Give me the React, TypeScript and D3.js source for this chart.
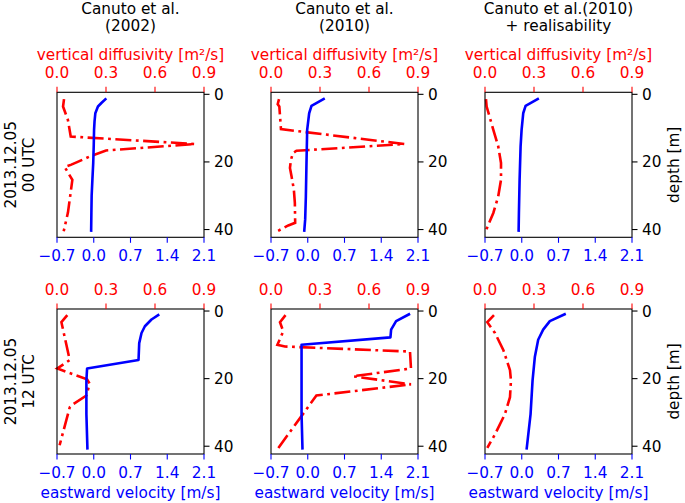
import React from "react";
import * as d3 from "d3";

// ---------- labels / ticks ----------
const columnTitles: string[][] = [
  ["Canuto et al.", "(2002)"],
  ["Canuto et al.", "(2010)"],
  ["Canuto et al.(2010)", "+ realisability"],
];
const rowLabels: string[][] = [
  ["2013.12.05", "00 UTC"],
  ["2013.12.05", "12 UTC"],
];
const velTicks = [-0.7, 0.0, 0.7, 1.4, 2.1];
const diffTicks = [0.0, 0.3, 0.6, 0.9];
const depthTicks = [0, 20, 40];

// ---------- 00 UTC, Canuto 2002 ----------
const velDepth00a = [1.2, 2.5, 3.6, 5.6, 8, 10.5, 15, 20.3, 25, 30, 35, 40.7];
const vel00a = [0.24, 0.15, 0.08, 0.03, 0.015, 0.006, 0.0, -0.01, -0.025, -0.04, -0.045, -0.05];
const difDepth00a = [1.4, 3.6, 7.6, 12.5, 14.7, 16.6, 18.4, 20.8, 21.5, 24.5, 25.3, 35, 40.5];
const dif00a = [0.043, 0.037, 0.067, 0.084, 0.845, 0.3, 0.2, 0.088, 0.047, 0.084, 0.094, 0.067, 0.041];

// ---------- 00 UTC, Canuto 2010 ----------
const velDepth00b = [1.2, 3.4, 5.6, 10.5, 20.3, 30.2, 37, 40.7];
const vel00b = [0.324, 0.071, 0.027, -0.011, -0.024, -0.036, -0.049, -0.068];
const difDepth00b = [1.4, 2.9, 3.6, 10.3, 14.7, 16.7, 17.4, 19.4, 21.8, 24.3, 28.2, 32.1, 38, 38.8, 40.5];
const dif00b = [0.049, 0.041, 0.051, 0.061, 0.817, 0.156, 0.134, 0.122, 0.116, 0.126, 0.14, 0.146, 0.148, 0.106, 0.039];

// ---------- 00 UTC, Canuto 2010 + realisability ----------
const velDepth00c = [1.2, 3.4, 5.6, 10.5, 15.4, 25.3, 35.1, 40.7];
const vel00c = [0.326, 0.073, 0.028, -0.003, -0.022, -0.041, -0.054, -0.06];
const difDepth00c = [1.4, 3.6, 10.5, 15.4, 20.3, 25.3, 30.2, 35.1, 40.5];
const dif00c = [0.006, 0.01, 0.051, 0.081, 0.098, 0.098, 0.081, 0.051, 0.004];

// ---------- 12 UTC, Canuto 2002 ----------
const velDepth12a = [1.0, 2.5, 4.5, 6.5, 9.5, 14.5, 17, 20.5, 30.5, 41];
const vel12a = [1.248, 1.1, 0.974, 0.91, 0.866, 0.853, -0.127, -0.14, -0.14, -0.12];
const difDepth12a = [1.2, 3.3, 14.5, 17, 20.2, 21.5, 25, 27.7, 28.5, 39.7];
const dif12a = [0.063, 0.027, 0.078, 0.002, 0.184, 0.2, 0.18, 0.094, 0.078, 0.016];

// ---------- 12 UTC, Canuto 2010 ----------
const velDepth12b = [0.8, 3, 5.5, 7.8, 10, 20.5, 30.5, 41];
const vel12b = [1.949, 1.683, 1.588, 1.575, -0.118, -0.118, -0.118, -0.1];
const difDepth12b = [1.2, 3.3, 6, 10, 10.5, 12, 17, 19.3, 21.7, 25, 40.5];
const dif12b = [0.089, 0.055, 0.075, 0.039, 0.085, 0.851, 0.857, 0.502, 0.857, 0.278, 0.045];

// ---------- 12 UTC, Canuto 2010 + realisability ----------
const velDepth12c = [0.8, 3, 5.5, 8.5, 13.5, 20.5, 30.5, 41];
const vel12c = [0.839, 0.535, 0.408, 0.313, 0.25, 0.206, 0.168, 0.092];
const difDepth12c = [1.2, 3.3, 6.5, 11.5, 17.5, 20.5, 25.5, 30.5, 36.5, 40.5];
const dif12c = [0.055, 0.014, 0.061, 0.112, 0.153, 0.159, 0.153, 0.122, 0.061, 0.014];

const panels = [
  [
    { vd: velDepth00a, v: vel00a, kd: difDepth00a, k: dif00a },
    { vd: velDepth00b, v: vel00b, kd: difDepth00b, k: dif00b },
    { vd: velDepth00c, v: vel00c, kd: difDepth00c, k: dif00c },
  ],
  [
    { vd: velDepth12a, v: vel12a, kd: difDepth12a, k: dif12a },
    { vd: velDepth12b, v: vel12b, kd: difDepth12b, k: dif12b },
    { vd: velDepth12c, v: vel12c, kd: difDepth12c, k: dif12c },
  ],
];

const FONT = "DejaVu Sans, Verdana, sans-serif";
const FS = 15.3;
const RED = "#ff0000";
const BLUE = "#0000ff";

const colX = [57, 271, 485];
const rowY = [92.3, 309];
const PW = 147;
const PH = 145;

const fmt = (v: number) => d3.format(".1f")(v).replace("-", "\u2212");

function Panel({ r, c }: { r: number; c: number }) {
  const x0 = colX[c];
  const y0 = rowY[r];
  const d = panels[r][c];
  const xVel = d3.scaleLinear().domain([-0.7, 2.1]).range([x0, x0 + PW]);
  const xDif = d3.scaleLinear().domain([0, 0.9]).range([x0, x0 + PW]);
  const yDep = d3.scaleLinear().domain([-0.6, 42.3]).range([y0, y0 + PH]);

  const velLine = d3
    .line<number>()
    .x((_, i) => xVel(d.v[i]))
    .y((dep) => yDep(dep));
  const difLine = d3
    .line<number>()
    .x((_, i) => xDif(d.k[i]))
    .y((dep) => yDep(dep));

  const TL = 5.5;
  return (
    <g>
      {/* data */}
      <path d={difLine(d.kd) || ""} fill="none" stroke={RED} strokeWidth={2.6}
        strokeDasharray="16 4.5 2.8 4.5" />
      <path d={velLine(d.vd) || ""} fill="none" stroke={BLUE} strokeWidth={2.6}
        strokeLinejoin="round" />
      {/* frame */}
      <rect x={x0} y={y0} width={PW} height={PH} fill="none" stroke="#000" strokeWidth={1.1} />
      {/* top ticks */}
      {diffTicks.map((t) => (
        <g key={"t" + t}>
          <line x1={xDif(t)} x2={xDif(t)} y1={y0} y2={y0 - TL} stroke={RED} strokeWidth={1.1} />
          <text x={xDif(t)} y={y0 - 14} textAnchor="middle" fill={RED}
            fontFamily={FONT} fontSize={FS}>{fmt(t)}</text>
        </g>
      ))}
      {/* bottom ticks */}
      {velTicks.map((t) => (
        <g key={"b" + t}>
          <line x1={xVel(t)} x2={xVel(t)} y1={y0 + PH} y2={y0 + PH + TL} stroke={BLUE} strokeWidth={1.1} />
          <text x={xVel(t)} y={y0 + PH + 24} textAnchor="middle" fill={BLUE}
            fontFamily={FONT} fontSize={FS}>{fmt(t)}</text>
        </g>
      ))}
      {/* right ticks */}
      {depthTicks.map((t) => (
        <g key={"r" + t}>
          <line x1={x0 + PW} x2={x0 + PW + TL} y1={yDep(t)} y2={yDep(t)} stroke="#000" strokeWidth={1.1} />
          <text x={x0 + PW + 10} y={yDep(t)} dy="0.36em" textAnchor="start" fill="#000"
            fontFamily={FONT} fontSize={FS}>{t}</text>
        </g>
      ))}
      {r === 0 && (
        <text x={x0 + PW / 2} y={y0 - 32} textAnchor="middle" fill={RED}
          fontFamily={FONT} fontSize={FS}>vertical diffusivity [m²/s]</text>
      )}
      {r === 1 && (
        <text x={x0 + PW / 2} y={y0 + PH + 44} textAnchor="middle" fill={BLUE}
          fontFamily={FONT} fontSize={FS}>eastward velocity [m/s]</text>
      )}
      {c === 2 && (
        <text transform={`translate(679,${y0 + PH / 2}) rotate(-90)`} textAnchor="middle"
          fill="#000" fontFamily={FONT} fontSize={FS}>depth [m]</text>
      )}
    </g>
  );
}

export default function App() {
  return (
    <svg width={685} height={503} style={{ position: "absolute", left: 0, top: 0, background: "#fff" }}>
      <rect width={685} height={503} fill="#fff" />
      {columnTitles.map((lines, c) => (
        <g key={"ct" + c}>
          {lines.map((s, i) => (
            <text key={i} x={colX[c] + PW / 2} y={13.5 + i * 17} textAnchor="middle" fill="#000"
              fontFamily={FONT} fontSize={FS}>{s}</text>
          ))}
        </g>
      ))}
      {rowLabels.map((lines, r) => (
        <g key={"rl" + r}>
          {lines.map((s, i) => (
            <text key={i} transform={`translate(${16 + i * 17.5},${rowY[r] + PH / 2}) rotate(-90)`}
              textAnchor="middle" fill="#000" fontFamily={FONT} fontSize={FS}>{s}</text>
          ))}
        </g>
      ))}
      {[0, 1].map((r) => [0, 1, 2].map((c) => <Panel key={r + "-" + c} r={r} c={c} />))}
    </svg>
  );
}
